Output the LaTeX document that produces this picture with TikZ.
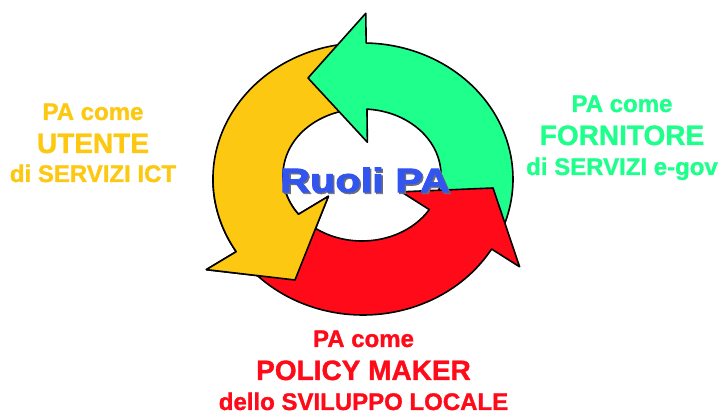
\documentclass[tikz,border=0pt]{standalone}
\usepackage{fontspec}
\setmainfont{Liberation Sans}[BoldFeatures={FakeBold=1.2}]
\newfontfamily\titlefont{Liberation Sans}[BoldFeatures={FakeBold=2.2}]
\usetikzlibrary{calc}
\definecolor{cyel}{RGB}{252,200,18}
\definecolor{cgrn}{RGB}{30,255,140}
\definecolor{cred}{RGB}{255,10,25}
\definecolor{cblu}{RGB}{50,85,240}
\definecolor{cshd}{RGB}{110,110,120}
\newcommand\yellowarrowpath{(yT1) arc[start angle=97, end angle=212.3, x radius=150pt, y radius=136pt] -- (yBo) -- (yTip) -- (yBi) -- (yI) arc[start angle=216.5, end angle=97, x radius=79pt, y radius=66pt] -- cycle}
\begin{document}
\begin{tikzpicture}[x=1pt,y=1pt,
  arrowshape/.style={draw=black, line width=1.6pt, line join=round},
  small/.style={font=\bfseries\fontsize{24}{24}\selectfont, anchor=base, inner sep=0pt},
  big/.style={font=\bfseries\fontsize{28}{28}\selectfont, anchor=base, inner sep=0pt},
  ttlstyle/.style={inner sep=0pt, font=\titlefont\bfseries\fontsize{34}{34}\selectfont}]
\useasboundingbox (-363,-237) rectangle (357,177);
% ---- green arrow
\coordinate (gT1) at ({150*cos(-24)},{-2+136*sin(-24)});
\coordinate (gO) at ({150*cos(88.8)},{-2+136*sin(88.8)});
\coordinate (gI) at ({-1+79*cos(86.4)},{2+66*sin(86.4)});
\coordinate (gTip) at (-55,99);
\coordinate (gBo) at ($(gI)!1.45!(gO)$);
\coordinate (gBi) at ($(gO)!1.5!(gI)$);
% ---- red arrow
\coordinate (rT1) at ({150*cos(215)},{-2+136*sin(215)});
\coordinate (rO) at ({150*cos(329)},{-2+136*sin(329)});
\coordinate (rI) at ({-1+79*cos(328.4)},{2+66*sin(328.4)});
\coordinate (rTip) at (130,-11);
\coordinate (rBo) at ($(rI)!1.45!(rO)$);
\coordinate (rBi) at ($(rO)!1.45!(rI)$);
% ---- yellow arrow
\coordinate (yT1) at ({150*cos(97)},{-2+136*sin(97)});
\coordinate (yO) at ({150*cos(212.3)},{-2+136*sin(212.3)});
\coordinate (yI) at ({-1+79*cos(216.5)},{2+66*sin(216.5)});
\coordinate (yTip) at (-68,-103);
\coordinate (yBo) at ($(yI)!1.48!(yO)$);
\coordinate (yBi) at ($(yO)!1.48!(yI)$);

\path[arrowshape, fill=cyel] \yellowarrowpath;
\path[arrowshape, fill=cgrn] (gT1) arc[start angle=-24, end angle=88.8, x radius=150pt, y radius=136pt] -- (gBo) -- (gTip) -- (gBi) -- (gI) arc[start angle=86.4, end angle=-24, x radius=79pt, y radius=66pt] -- cycle;
\path[arrowshape, fill=cred] (rT1) arc[start angle=215, end angle=329, x radius=150pt, y radius=136pt] -- (rBo) -- (rTip) -- (rBi) -- (rI) arc[start angle=328.4, end angle=225, x radius=79pt, y radius=66pt] -- cycle;
\begin{scope}
  \clip (-200,-150) rectangle (-20,0);
  \path[arrowshape, fill=cyel] \yellowarrowpath;
\end{scope}

% ---- title
\node[ttlstyle, text=cshd] (ttlsh) at (3.5,-4.5) {\scalebox{1.22}[1]{Ruoli PA}};
\node[ttlstyle, text=cblu] (ttl) at (2,-3) {\scalebox{1.22}[1]{Ruoli PA}};

% ---- labels
\node[small, text=cyel] (l1) at (-270,57) {PA come};
\node[big, text=cyel] (l2) at (-270,24) {UTENTE};
\node[small, text=cyel] (l3) at (-270,-5) {di SERVIZI ICT};

\node[small, text=cgrn] (r1) at (259,65) {PA come};
\node[big, text=cgrn] (r2) at (259,32) {FORNITORE};
\node[small, text=cgrn] (r3) at (259,2) {di SERVIZI e-gov};

\node[small, text=cred] (b1) at (0.5,-170) {PA come};
\node[big, text=cred] (b2) at (0.5,-203) {POLICY MAKER};
\node[small, text=cred] (b3) at (0.5,-233) {dello SVILUPPO LOCALE};
\end{tikzpicture}
\end{document}
